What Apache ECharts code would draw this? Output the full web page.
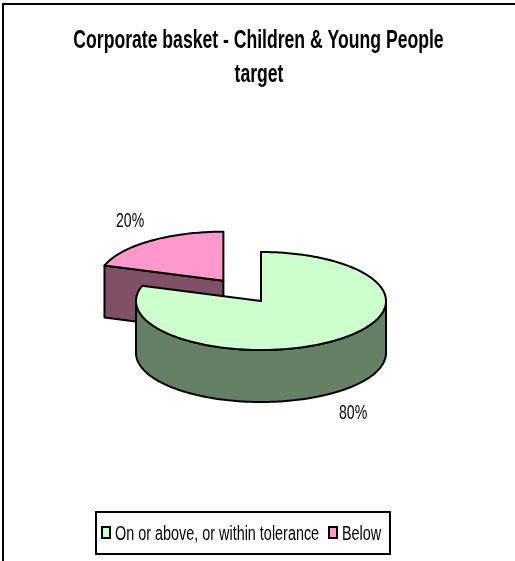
<!DOCTYPE html>
<html>
<head>
<meta charset="utf-8">
<style>html,body{margin:0;padding:0;background:#fff}#chart{width:515px;height:561px}</style>
<script src="https://cdn.jsdelivr.net/npm/echarts@6/dist/echarts.min.js"></script>
</head>
<body>
<div id="chart"></div>
<script>
// Share of corporate basket indicators by status
const sliceNames = ['On or above, or within tolerance', 'Below'];
const sliceValues = [80, 20];
const topColours = ['#ccffcc', '#ff99cc'];
const sideColours = ['#668066', '#805066'];
const titleLines = ['Corporate basket - Children & Young People', 'target'];

const FONT = '"Liberation Sans", Arial, sans-serif';
const RX = 125, RY = 49, DEPTH = 52;
const CENTRE = [261, 301];
const EXPLODE = [0, 64];
const total = sliceValues.reduce((a, b) => a + b, 0);

// Start and end angles, clockwise from 12 o'clock, in radians
const spans = [];
sliceValues.reduce((start, v) => {
  const end = start + v / total * Math.PI * 2;
  spans.push([start, end]);
  return end;
}, 0);

function rim(c, a) {
  return [c[0] + RX * Math.sin(a), c[1] - RY * Math.cos(a)];
}

function arcPoints(c, a0, a1) {
  const n = Math.max(2, Math.ceil(Math.abs(a1 - a0) / 0.02));
  const pts = [];
  for (let i = 0; i <= n; i++) pts.push(rim(c, a0 + (a1 - a0) * i / n));
  return pts;
}

const shift = (pts) => pts.map(p => [p[0], p[1] + DEPTH]);
const lineStyle = { stroke: '#000', lineWidth: 2, lineJoin: 'round' };

function face(points, fill) {
  return { type: 'polygon', shape: { points }, style: { fill, ...lineStyle } };
}

function sliceItem(i) {
  const [a0, a1] = spans[i];
  const mid = (a0 + a1) / 2;
  const c = [
    CENTRE[0] + EXPLODE[i] * Math.sin(mid),
    CENTRE[1] - EXPLODE[i] * RY / RX * Math.cos(mid)
  ];
  const topFace = [c].concat(arcPoints(c, a0, a1));
  const children = [];
  // Cut face running from the rim back to the slice's centre
  const cutEnd = rim(c, a0);
  children.push(face([cutEnd, c].concat(shift([c, cutEnd])), sideColours[i]));
  // Outer wall: only the part of the rim that faces the viewer
  const wallFrom = Math.max(a0, Math.PI / 2);
  const wallTo = Math.min(a1, Math.PI * 1.5);
  if (wallTo > wallFrom) {
    const arc = arcPoints(c, wallFrom, wallTo);
    children.push(face(arc.concat(shift(arc).reverse()), sideColours[i]));
  }
  children.push(face(topFace, topColours[i]));
  return { type: 'group', children };
}

const series = sliceNames.map((name, i) => ({
  type: 'custom',
  name,
  coordinateSystem: 'none',
  z: i === 0 ? 3 : 2,
  data: [[sliceValues[i]]],
  renderItem: () => sliceItem(i),
  silent: true
}));

// Horizontally condensed text, anchored at its left or centre point
function narrowText(text, x, y, size, weight, squeeze, align) {
  return {
    type: 'text', silent: true, z: 10, x, y, scaleX: squeeze,
    style: { text, x: 0, y: 0, fill: '#000', align: align || 'left', verticalAlign: 'middle',
      font: `${weight} ${size}px ${FONT}` }
  };
}

function swatch(x, y, fill) {
  return { type: 'rect', silent: true, z: 10, shape: { x, y, width: 8, height: 11 },
    style: { fill, stroke: '#000', lineWidth: 2 } };
}

const chart = echarts.init(document.getElementById('chart'), null, { renderer: 'canvas' });
chart.setOption({
  animation: false,
  backgroundColor: '#fff',
  graphic: [
    { type: 'rect', silent: true, z: -1, shape: { x: 3, y: 4, width: 520, height: 570 },
      style: { fill: 'none', stroke: '#000', lineWidth: 2 } },
    narrowText(titleLines[0], 258.5, 41, 25, 'bold', 0.704, 'center'),
    narrowText(titleLines[1], 259, 75, 25, 'bold', 0.704, 'center'),
    narrowText(sliceValues[1] + '%', 116, 221, 21, 'normal', 0.67),
    narrowText(sliceValues[0] + '%', 339, 413, 21, 'normal', 0.67),
    { type: 'rect', silent: true, z: 9, shape: { x: 96, y: 512, width: 294, height: 42 },
      style: { fill: '#fff', stroke: '#000', lineWidth: 2 } },
    swatch(102, 527, topColours[0]),
    narrowText(sliceNames[0], 115, 534, 20, 'normal', 0.72),
    swatch(329, 527, topColours[1]),
    narrowText(sliceNames[1], 342, 534, 20, 'normal', 0.72)
  ],
  series
});
</script>
</body>
</html>
